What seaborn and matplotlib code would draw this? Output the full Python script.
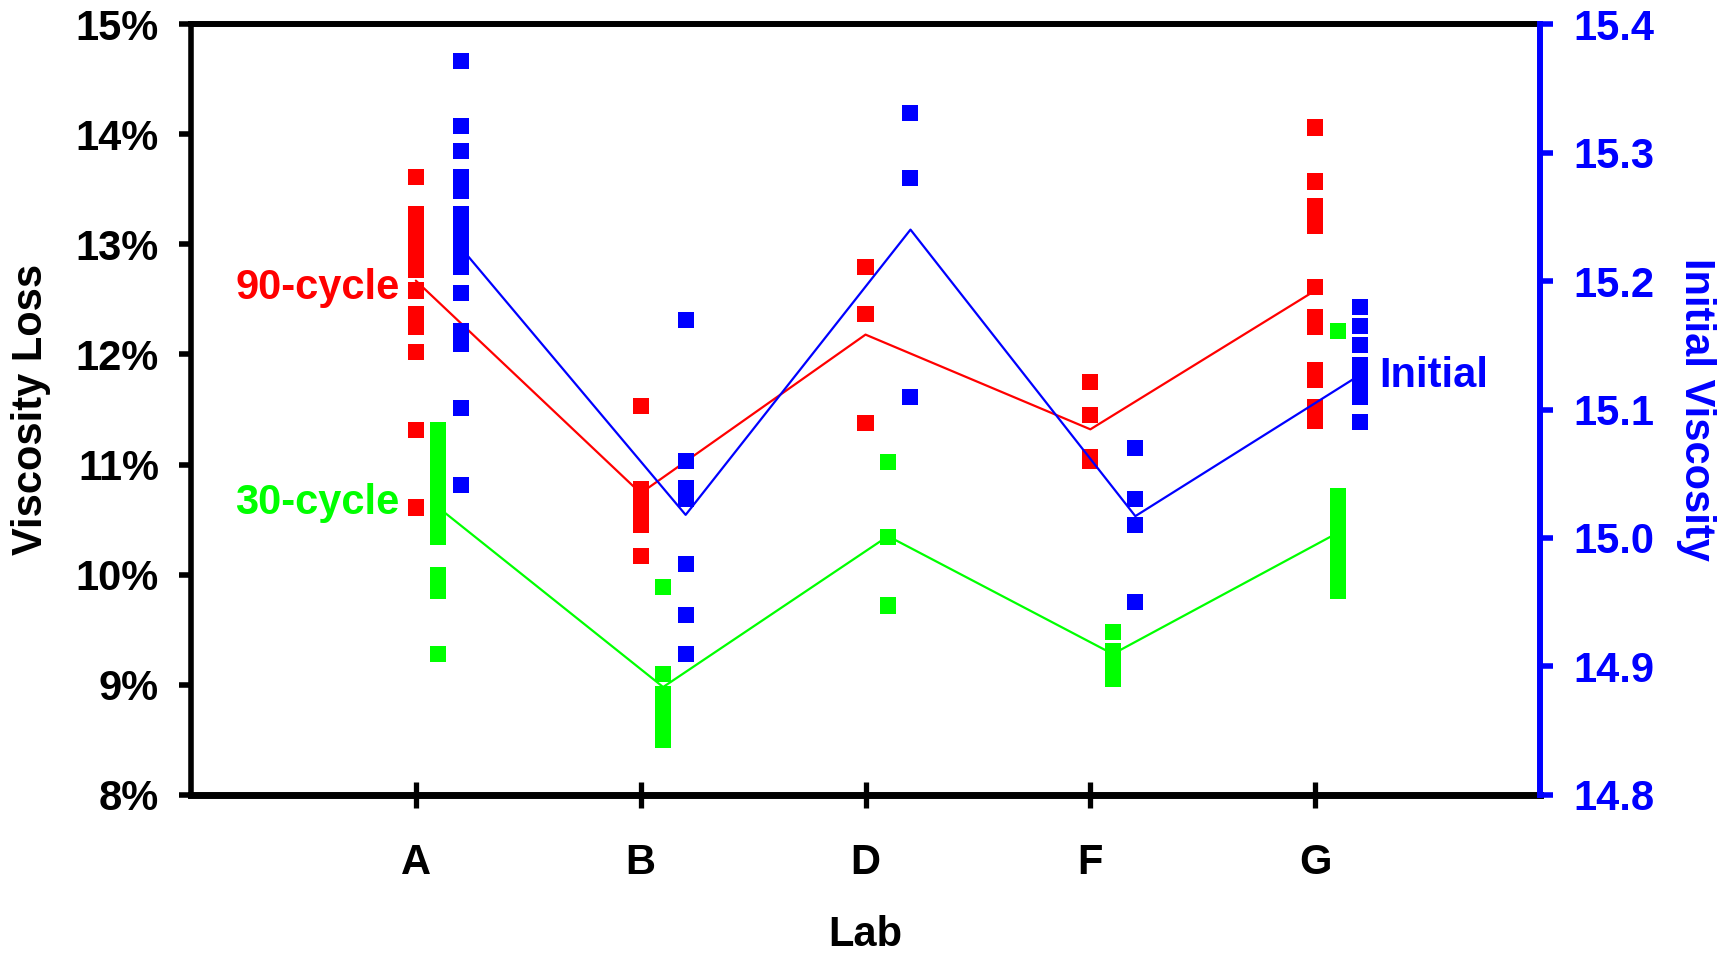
import numpy as np
import pandas as pd
import matplotlib
matplotlib.use("Agg")
import matplotlib.pyplot as plt
import seaborn as sns
from matplotlib.ticker import FuncFormatter

# ---------------- data ----------------
labs = ["A", "B", "D", "F", "G"]

loss90_A = [13.61, 13.27, 13.22, 13.17, 13.12, 13.07, 13.02, 12.97, 12.92, 12.87, 12.82, 12.77,
            12.58, 12.37, 12.25, 12.02, 11.31, 10.61]
loss90_B = [11.53, 10.78, 10.70, 10.58, 10.45, 10.17]
loss90_D = [12.79, 12.37, 11.38]
loss90_F = [11.75, 11.45, 11.07, 11.03]
loss90_G = [14.06, 13.57, 13.35, 13.26, 13.17, 12.61, 12.34, 12.25, 11.86, 11.77, 11.52, 11.40]

loss30_A = [11.31, 11.20, 11.10, 11.00, 10.90, 10.80, 10.70, 10.60, 10.50, 10.42, 10.34,
            10.00, 9.85, 9.28]
loss30_B = [9.89, 9.10, 8.92, 8.82, 8.73, 8.60, 8.50]
loss30_D = [11.02, 10.34, 9.72]
loss30_F = [9.48, 9.31, 9.16, 9.05]
loss30_G = [12.21, 10.71, 10.60, 10.45, 10.38, 10.30, 10.20, 10.10, 10.02, 9.95, 9.88, 9.85]

init_A = [15.371, 15.321, 15.301, 15.281, 15.270, 15.252, 15.245, 15.236, 15.228, 15.219,
          15.211, 15.191, 15.161, 15.151, 15.101, 15.041]
init_B = [15.170, 15.060, 15.039, 15.034, 15.030, 14.980, 14.940, 14.910]
init_D = [15.331, 15.280, 15.110]
init_F = [15.070, 15.030, 15.010, 14.950]
init_G = [15.180, 15.165, 15.150, 15.135, 15.125, 15.115, 15.110, 15.110, 15.090]

line90 = [12.67, 10.74, 12.18, 11.32, 12.58]
line30 = [10.61, 8.98, 10.35, 9.28, 10.38]
line_init = [15.226, 15.018, 15.240, 15.017, 15.127]

loss_ticks = [8, 9, 10, 11, 12, 13, 14, 15]
visc_ticks = [14.8, 14.9, 15.0, 15.1, 15.2, 15.3, 15.4]

# ---------------- tables ----------------
RED, GREEN, BLUE = "#FF0000", "#00FF00", "#0000FF"
offsets = {"90-cycle": 0.0, "30-cycle": 0.1, "Initial": 0.2}

def build(series, groups):
    rows = []
    for i, (lab, vals) in enumerate(zip(labs, groups)):
        for v in vals:
            rows.append({"lab": lab, "x": i + 1 + offsets[series], "value": v, "series": series})
    return pd.DataFrame(rows)

df_loss = pd.concat([
    build("90-cycle", [loss90_A, loss90_B, loss90_D, loss90_F, loss90_G]),
    build("30-cycle", [loss30_A, loss30_B, loss30_D, loss30_F, loss30_G]),
], ignore_index=True)
df_init = build("Initial", [init_A, init_B, init_D, init_F, init_G])

xpos = np.arange(1, len(labs) + 1)
df_lines = pd.DataFrame({
    "x": np.concatenate([xpos + offsets["90-cycle"], xpos + offsets["30-cycle"]]),
    "value": line90 + line30,
    "series": ["90-cycle"] * len(labs) + ["30-cycle"] * len(labs),
})
df_line_init = pd.DataFrame({"x": xpos + offsets["Initial"], "value": line_init})

# ---------------- plot ----------------
sns.set_style("white")
plt.rcParams["font.family"] = ["Liberation Sans", "DejaVu Sans"]
plt.rcParams["font.weight"] = "bold"
plt.rcParams["text.color"] = "black"
plt.rcParams["axes.labelcolor"] = "black"
plt.rcParams["xtick.color"] = "black"
plt.rcParams["ytick.color"] = "black"

fig = plt.figure(figsize=(17.3, 9.57), dpi=100)
ax = fig.add_axes([0.1104, 0.1693, 0.7798, 0.8056])
ax2 = ax.twinx()

FS = 30
palette = {"90-cycle": RED, "30-cycle": GREEN}

sns.lineplot(data=df_lines, x="x", y="value", hue="series", palette=palette,
             ax=ax, linewidth=1.6, legend=False, zorder=2)
sns.scatterplot(data=df_loss, x="x", y="value", hue="series", palette=palette,
                marker="s", s=135, linewidth=0, ax=ax, legend=False, zorder=3)

sns.lineplot(data=df_line_init, x="x", y="value", color=BLUE, ax=ax2,
             linewidth=1.6, legend=False, zorder=2)
sns.scatterplot(data=df_init, x="x", y="value", color=BLUE, marker="s", s=135,
                linewidth=0, ax=ax2, legend=False, zorder=3)

# axes limits & ticks
ax.set_xlim(0, 6)
ax.set_ylim(8, 15)
ax2.set_ylim(14.8, 15.4)
ax.set_xticks(xpos)
ax.set_xticklabels(labs)
ax.set_yticks(loss_ticks)
ax.yaxis.set_major_formatter(FuncFormatter(lambda v, p: f"{v:.0f}%"))
ax2.set_yticks(visc_ticks)
ax2.yaxis.set_major_formatter(FuncFormatter(lambda v, p: f"{v:.1f}"))

ax.tick_params(axis="x", direction="inout", length=19, width=3.8, color="black",
               labelcolor="black", labelsize=FS, pad=25, bottom=True)
ax.tick_params(axis="y", direction="out", length=9, width=4, color="black",
               labelcolor="black", labelsize=FS, pad=14, left=True)
ax2.tick_params(axis="y", direction="out", length=9, width=4, color=BLUE,
                labelcolor=BLUE, labelsize=FS, pad=15, right=True)
for lab in ax.get_xticklabels() + ax.get_yticklabels() + ax2.get_yticklabels():
    lab.set_fontweight("bold")

# spines
for sp in ["left", "top", "bottom"]:
    ax.spines[sp].set_visible(True)
    ax.spines[sp].set_color("black")
ax.spines["left"].set_linewidth(4)
ax.spines["top"].set_linewidth(4.3)
ax.spines["bottom"].set_linewidth(5)
ax.spines["right"].set_visible(False)
for sp in ["left", "top", "bottom"]:
    ax2.spines[sp].set_visible(False)
ax2.spines["right"].set_visible(True)
ax2.spines["right"].set_color(BLUE)
ax2.spines["right"].set_linewidth(4.3)

# labels
ax.set_xlabel("Lab", fontsize=FS, fontweight="bold", color="black", va="center")
ax.xaxis.set_label_coords(0.5, -0.182)
ax.set_ylabel("Viscosity Loss", fontsize=FS, fontweight="bold", color="black", va="center")
ax.yaxis.set_label_coords(-0.1186, 0.5)
ax2.set_ylabel("Initial Viscosity", fontsize=FS, fontweight="bold", color=BLUE,
               rotation=270, va="center")
ax2.yaxis.set_label_coords(1.1157, 0.5)

# in-plot annotations
ax.text(0.927, 12.50, "90-cycle", color=RED, fontsize=FS, fontweight="bold",
        ha="right", va="baseline")
ax.text(0.927, 10.55, "30-cycle", color=GREEN, fontsize=FS, fontweight="bold",
        ha="right", va="baseline")
ax2.text(5.285, 15.1175, "Initial", color=BLUE, fontsize=FS, fontweight="bold",
         ha="left", va="baseline")

ax.grid(False)
ax2.grid(False)
fig.savefig("out.png", dpi=100)
